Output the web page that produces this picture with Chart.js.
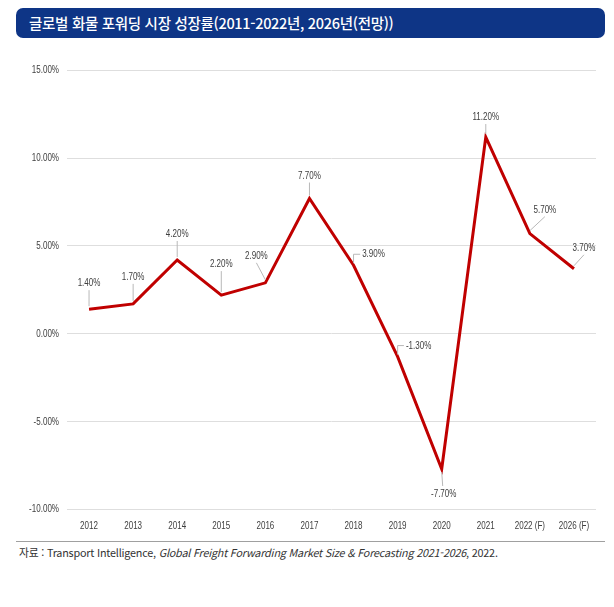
<!DOCTYPE html>
<html lang="ko">
<head>
<meta charset="utf-8">
<script src="https://cdn.jsdelivr.net/npm/chart.js@4/dist/chart.umd.min.js"></script>
<style>
  html, body { margin: 0; padding: 0; background: #fff; }
  body { width: 614px; height: 607px; position: relative; overflow: hidden; }
  .title {
    position: absolute; left: 16px; top: 8px; width: 589px; height: 30px;
    background: #0e3586; border-radius: 7px; color: #fff;
    font-family: "Noto Sans CJK KR", sans-serif; font-size: 14.5px; font-weight: 500;
    line-height: 30px; padding-left: 13px; box-sizing: border-box; letter-spacing: -0.3px;
  }
  .chart-box { position: absolute; left: 0; top: 56px; width: 614px; height: 478px; }
  .rule { position: absolute; left: 16px; top: 541px; width: 589px; height: 0; border-top: 1px solid #a0a0a0; }
  .source {
    position: absolute; left: 19px; top: 544px; font-size: 10.8px; color: #333;
    font-family: "Noto Sans CJK KR", sans-serif; white-space: nowrap; letter-spacing: -0.2px;
  }
</style>
</head>
<body>
<div class="title">글로벌 화물 포워딩 시장 성장률(2011-2022년, 2026년(전망))</div>
<div class="chart-box"><canvas id="growthChart"></canvas></div>
<div class="rule"></div>
<div class="source">자료 : Transport Intelligence, <i>Global Freight Forwarding Market Size &amp; Forecasting 2021-2026</i>, 2022.</div>
<script>
  const years = ["2012", "2013", "2014", "2015", "2016", "2017", "2018", "2019", "2020", "2021", "2022 (F)", "2026 (F)"];
  const growthRates = [1.4, 1.7, 4.2, 2.2, 2.9, 7.7, 3.9, -1.3, -7.7, 11.2, 5.7, 3.7];
  const yTicks = [-10, -5, 0, 5, 10, 15];

  // label placement relative to each point (px) and leader style
  const labelOffsets = [
    [0, -26, "up"], [0, -27, "up"], [0, -26, "up"], [0, -31, "up"],
    [-9, -27, "up"], [0, -23, "up"], [20, -11, "hook"], [21, -11, "hook"],
    [2, 25, "down"], [0, -20, "up"], [15, -24, "up"], [10, -21, "up"],
  ];

  const FONT = '11px "Liberation Sans", Arial, sans-serif';
  const NARROW = 0.73;
  const TEXT_COLOR = "#404040";

  // the reference uses a narrow face, so squeeze text horizontally
  function narrowText(ctx, text, x, y, align) {
    ctx.save();
    ctx.font = FONT;
    ctx.fillStyle = TEXT_COLOR;
    ctx.textAlign = align;
    ctx.textBaseline = "middle";
    ctx.translate(x, y);
    ctx.scale(NARROW, 1);
    ctx.fillText(text, 0, 0);
    ctx.restore();
  }

  function narrowWidth(ctx, text) {
    ctx.save();
    ctx.font = FONT;
    const w = ctx.measureText(text).width * NARROW;
    ctx.restore();
    return w;
  }

  const narrowTicks = {
    id: "narrowTicks",
    afterDraw(chart) {
      const ctx = chart.ctx;
      const x = chart.scales.x;
      const y = chart.scales.y;
      x.ticks.forEach((t, i) => {
        narrowText(ctx, x.getLabelForValue(t.value), x.getPixelForTick(i), chart.chartArea.bottom + 17, "center");
      });
      y.ticks.forEach((t) => {
        narrowText(ctx, t.value.toFixed(2) + "%", chart.chartArea.left - 8, y.getPixelForValue(t.value), "right");
      });
    },
  };

  const dataLabels = {
    id: "dataLabels",
    afterDatasetsDraw(chart) {
      const ctx = chart.ctx;
      const meta = chart.getDatasetMeta(0);
      meta.data.forEach((pt, i) => {
        const [dx, dy, kind] = labelOffsets[i];
        const text = growthRates[i].toFixed(2) + "%";
        const w = narrowWidth(ctx, text);
        const lx = pt.x + dx;
        const ly = pt.y + dy;
        ctx.save();
        ctx.strokeStyle = "#b8b8b8";
        ctx.lineWidth = 1;
        ctx.beginPath();
        if (kind === "hook") {
          ctx.moveTo(pt.x, pt.y - 2);
          ctx.lineTo(pt.x, ly);
          ctx.lineTo(lx - w / 2 - 2, ly);
        } else if (kind === "down") {
          ctx.moveTo(pt.x, pt.y + 3);
          ctx.lineTo(lx - 1, ly - 8);
        } else {
          ctx.moveTo(pt.x, pt.y - 3);
          ctx.lineTo(lx, ly + 7);
        }
        ctx.stroke();
        ctx.restore();
        narrowText(ctx, text, lx, ly, "center");
      });
    },
  };

  new Chart(document.getElementById("growthChart"), {
    type: "line",
    data: {
      labels: years,
      datasets: [
        {
          data: growthRates,
          borderColor: "#c00000",
          borderWidth: 3,
          pointRadius: 0,
          tension: 0,
          fill: false,
        },
      ],
    },
    options: {
      responsive: true,
      maintainAspectRatio: false,
      animation: false,
      layout: { padding: { top: 12, right: 18, left: 0, bottom: 0 } },
      plugins: { legend: { display: false }, tooltip: { enabled: false } },
      scales: {
        x: {
          offset: true,
          grid: { display: false },
          border: { display: false },
          ticks: {
            color: "rgba(0,0,0,0)",
            font: { family: "Liberation Sans", size: 10.5 },
            padding: 2,
            maxRotation: 0,
            autoSkip: false,
          },
        },
        y: {
          min: -10,
          max: 15,
          afterFit(scale) {
            scale.width = 67;
          },
          afterBuildTicks(scale) {
            scale.ticks = yTicks.map((v) => ({ value: v }));
          },
          grid: { color: "#dedede", lineWidth: 1, drawTicks: false },
          border: { display: false },
          ticks: {
            color: "rgba(0,0,0,0)",
            font: { family: "Liberation Sans", size: 10.5 },
            padding: 8,
            callback: (v) => v.toFixed(2) + "%",
          },
        },
      },
    },
    plugins: [dataLabels, narrowTicks],
  });
</script>
</body>
</html>
